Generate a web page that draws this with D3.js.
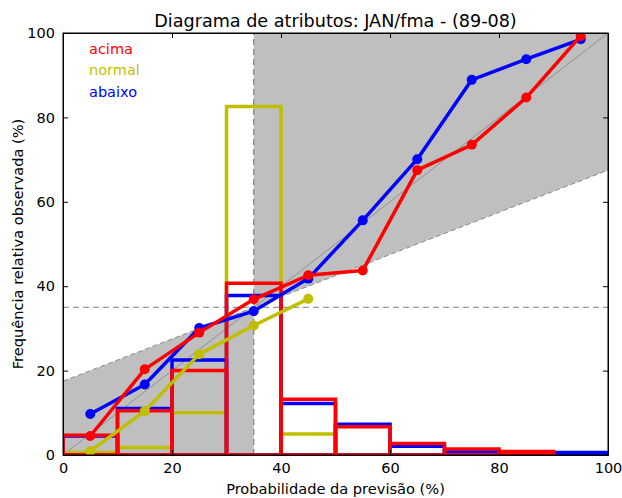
<!DOCTYPE html>
<html>
<head>
<meta charset="utf-8">
<script src="https://cdn.jsdelivr.net/npm/d3@7"></script>
<style>
  body { margin: 0; background: #fff; }
  svg { font-family: "DejaVu Sans", sans-serif; }
</style>
</head>
<body>
<script>
// chart size and plot box
var w = 622;
var h = 498;
var margin = {top: 33, right: 14, bottom: 43, left: 63};

// data: bin edges, bin centres, frequencies (%) and observed relative frequencies (%)
var binEdges = [0, 10, 20, 30, 40, 50, 60, 70, 80, 90, 100];
var binCenters = [5, 15, 25, 35, 45, 55, 65, 75, 85, 95];
var ticks = [0, 20, 40, 60, 80, 100];
var clim = 35;

var histAcima = [4.7, 10.5, 20, 40.7, 13.2, 6.7, 2.7, 1.4, 0.8, 0];
var histNormal = [0.6, 1.8, 10, 82.6, 5.0, 0, 0, 0, 0, 0];
var histAbaixo = [4.5, 11.0, 22.5, 37.8, 12.2, 7.3, 2.1, 0.9, 0.5, 0.6];

var obsAcima = [4.5, 20.3, 29, 36.9, 42.6, 43.7, 67.5, 73.5, 84.7, 99.3];
var obsNormal = [0.9, 10.4, 23.9, 30.7, 37.0];
var obsAbaixo = [9.7, 16.7, 30.1, 34.1, 41.8, 55.6, 70.1, 88.9, 93.8, 98.5];

var series = [
  {name: "normal", color: "#bfbf00", hist: histNormal, obs: obsNormal},
  {name: "abaixo", color: "#0000ff", hist: histAbaixo, obs: obsAbaixo},
  {name: "acima", color: "#ff0000", hist: histAcima, obs: obsAcima}
];
var legendOrder = ["acima", "normal", "abaixo"];

var x = d3.scaleLinear().domain([0, 100]).range([margin.left, w - margin.right]);
var y = d3.scaleLinear().domain([0, 100]).range([h - margin.bottom, margin.top]);

var svg = d3.select("body").append("svg")
  .attr("width", w)
  .attr("height", h);

svg.append("defs").append("clipPath").attr("id", "plot")
  .append("rect")
  .attr("x", x(0)).attr("y", y(100))
  .attr("width", x(100) - x(0)).attr("height", y(0) - y(100));

var plot = svg.append("g").attr("clip-path", "url(#plot)");

// no-skill line: halfway between climatology and perfect reliability
function noSkill(p) { return (p + clim) / 2; }

// shaded skill area
var shadeLeft = [[0, 0], [0, noSkill(0)], [clim, noSkill(clim)], [clim, 0]];
var shadeRight = [[clim, noSkill(clim)], [100, noSkill(100)], [100, 100], [clim, 100]];
var area = d3.line().x(function(d) { return x(d[0]); }).y(function(d) { return y(d[1]); });

[shadeLeft, shadeRight].forEach(function(poly) {
  plot.append("path")
    .attr("d", area(poly) + "Z")
    .attr("fill", "#bfbfbf");
});

// no-skill line (dashed)
plot.append("line")
  .attr("x1", x(0)).attr("y1", y(noSkill(0)))
  .attr("x2", x(100)).attr("y2", y(noSkill(100)))
  .attr("stroke", "#8a8a8a").attr("stroke-width", 1)
  .attr("stroke-dasharray", "5,3");

// climatology lines
plot.append("line")
  .attr("x1", x(clim)).attr("y1", y(0))
  .attr("x2", x(clim)).attr("y2", y(100))
  .attr("stroke", "#808080").attr("stroke-width", 1.2)
  .attr("stroke-dasharray", "6,4");
plot.append("line")
  .attr("x1", x(0)).attr("y1", y(clim))
  .attr("x2", x(100)).attr("y2", y(clim))
  .attr("stroke", "#999").attr("stroke-width", 1.2)
  .attr("stroke-dasharray", "6,4");

// perfect reliability
plot.append("line")
  .attr("x1", x(0)).attr("y1", y(0))
  .attr("x2", x(100)).attr("y2", y(100))
  .attr("stroke", "#909090").attr("stroke-width", 1);

// histograms as outlined steps
series.forEach(function(s) {
  var g = plot.append("g");
  s.hist.forEach(function(v, i) {
    if (v <= 0) return;
    var x0 = x(binEdges[i]), x1 = x(binEdges[i + 1]);
    g.append("path")
      .attr("d", "M" + x0 + "," + y(0) + "V" + y(v) + "H" + x1 + "V" + y(0) + "Z")
      .attr("fill", "none")
      .attr("stroke", s.color)
      .attr("stroke-width", 3.5);
  });
});

// reliability curves
var line = d3.line()
  .x(function(d, i) { return x(binCenters[i]); })
  .y(function(d) { return y(d); });

series.forEach(function(s) {
  plot.append("path")
    .datum(s.obs)
    .attr("d", line)
    .attr("fill", "none")
    .attr("stroke", s.color)
    .attr("stroke-width", 3.5)
    .attr("stroke-linejoin", "round");
  plot.selectAll(null)
    .data(s.obs)
    .enter()
    .append("circle")
    .attr("cx", function(d, i) { return x(binCenters[i]); })
    .attr("cy", function(d) { return y(d); })
    .attr("r", 5)
    .attr("fill", s.color);
});

// axes, matplotlib classic style: ticks pointing inside, on all four sides
var xAxis = d3.axisBottom(x).tickValues(ticks).tickSizeInner(-5).tickSizeOuter(0).tickPadding(8);
var yAxis = d3.axisLeft(y).tickValues(ticks).tickSizeInner(-5).tickSizeOuter(0).tickPadding(8);

svg.append("g")
  .attr("class", "x axis")
  .attr("transform", "translate(0," + y(0) + ")")
  .call(xAxis);
svg.append("g")
  .attr("class", "y axis")
  .attr("transform", "translate(" + x(0) + ",0)")
  .call(yAxis);
svg.append("g")
  .attr("transform", "translate(0," + y(100) + ")")
  .call(d3.axisTop(x).tickValues(ticks).tickSizeInner(-5).tickSizeOuter(0).tickFormat(""));
svg.append("g")
  .attr("transform", "translate(" + x(100) + ",0)")
  .call(d3.axisRight(y).tickValues(ticks).tickSizeInner(-5).tickSizeOuter(0).tickFormat(""));

svg.selectAll(".axis text")
  .attr("font-size", 14.5)
  .attr("font-family", "DejaVu Sans, sans-serif")
  .attr("fill", "#000");
svg.selectAll(".domain").attr("stroke", "#000").attr("stroke-width", 1);

// plot frame
svg.append("rect")
  .attr("x", x(0)).attr("y", y(100))
  .attr("width", x(100) - x(0)).attr("height", y(0) - y(100))
  .attr("fill", "none").attr("stroke", "#000").attr("stroke-width", 1);

// legend as coloured text
var colorByName = {};
series.forEach(function(s) { colorByName[s.name] = s.color; });
svg.selectAll(".legend")
  .data(legendOrder)
  .enter()
  .append("text")
  .attr("class", "legend")
  .attr("x", 89)
  .attr("y", function(d, i) { return 54 + i * 21.3; })
  .attr("font-size", 14.5)
  .attr("fill", function(d) { return colorByName[d]; })
  .text(function(d) { return d; });

// title and axis labels
svg.append("text")
  .attr("x", (x(0) + x(100)) / 2)
  .attr("y", 27)
  .attr("text-anchor", "middle")
  .attr("font-size", 17.6)
  .text("Diagrama de atributos: JAN/fma - (89-08)");

svg.append("text")
  .attr("x", (x(0) + x(100)) / 2)
  .attr("y", 494)
  .attr("text-anchor", "middle")
  .attr("font-size", 14.6)
  .text("Probabilidade da previsão (%)");

svg.append("text")
  .attr("transform", "translate(23," + ((y(0) + y(100)) / 2) + ") rotate(-90)")
  .attr("text-anchor", "middle")
  .attr("font-size", 14.6)
  .text("Frequência relativa observada (%)");
</script>
</body>
</html>
